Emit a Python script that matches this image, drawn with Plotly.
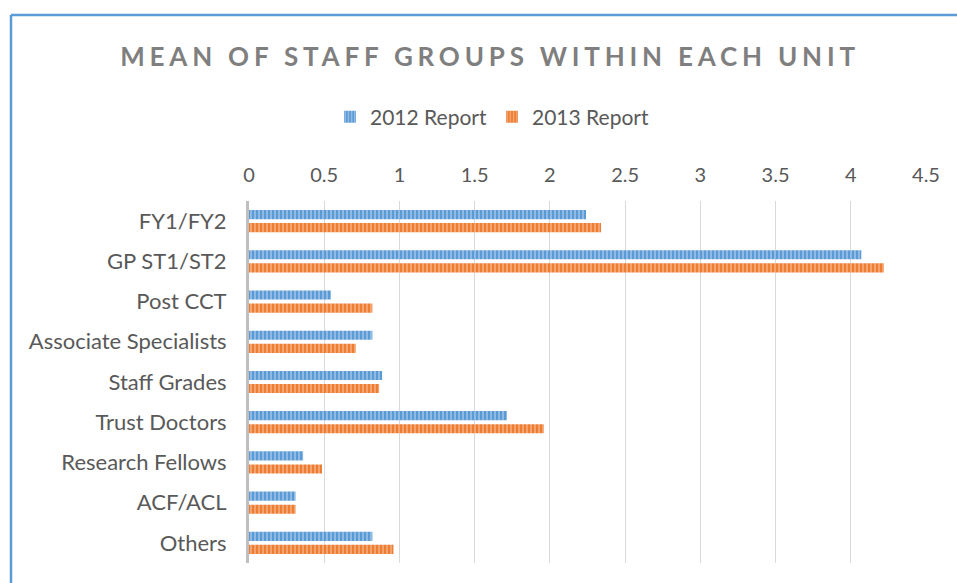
import plotly.graph_objects as go

categories = ["FY1/FY2", "GP ST1/ST2", "Post CCT", "Associate Specialists",
              "Staff Grades", "Trust Doctors", "Research Fellows", "ACF/ACL", "Others"]
report_2012 = [2.24, 4.07, 0.545, 0.82, 0.885, 1.715, 0.36, 0.31, 0.82]
report_2013 = [2.34, 4.22, 0.82, 0.71, 0.865, 1.96, 0.485, 0.31, 0.96]
series_names = ["2012 Report", "2013 Report"]
tick_vals = [0, 0.5, 1, 1.5, 2, 2.5, 3, 3.5, 4, 4.5]
tick_text = ["0", "0.5", "1", "1.5", "2", "2.5", "3", "3.5", "4", "4.5"]

W, H = 957, 583
L, R, T, B = 249, 31, 201, 20
pw, ph = W - L - R, H - T - B

def px_x(p):
    return (p - L) / pw

def px_y(p):
    return 1 + (T - p) / ph

fig = go.Figure()
styles = [("#5B9BD5", "#A7C8EA"), ("#ED7D31", "#F5B48A")]
for name, vals, (c, fg) in zip(series_names, [report_2012, report_2013], styles):
    fig.add_trace(go.Bar(
        y=categories, x=vals, name=name, orientation="h",
        marker=dict(color=c, line=dict(width=0),
                    pattern=dict(shape="|", size=4, solidity=0.35,
                                 fgcolor=fg, fillmode="overlay", fgopacity=1)),
    ))

title_txt = '<span style="letter-spacing:4.8px">MEAN OF STAFF GROUPS WITHIN EACH UNIT</span>'

fig.update_layout(
    width=W, height=H,
    margin=dict(l=L, r=R, t=T, b=B),
    paper_bgcolor="white", plot_bgcolor="white",
    barmode="group", bargap=0.35, bargroupgap=0.3,
    font=dict(family="Lato", color="#595959", size=21),
    title=dict(text=title_txt, x=px_x(490), xref="paper", xanchor="center",
               y=1 - 57 / H, yref="container", yanchor="middle",
               font=dict(family="Lato", size=26, color="#7F7F7F", weight="bold")),
    legend=dict(orientation="h", x=px_x(492), xanchor="center",
                y=px_y(117), yanchor="middle", font=dict(size=21, color="#595959"),
                itemwidth=30, traceorder="normal"),
    xaxis=dict(side="top", range=[0, 4.5], tickvals=tick_vals, ticktext=tick_text,
               showgrid=True, gridcolor="#D9D9D9", gridwidth=1, zeroline=False,
               showline=False, ticks="", ticklabelstandoff=14,
               tickfont=dict(size=20, color="#595959")),
    yaxis=dict(autorange="reversed", showline=True, linecolor="#BFBFBF", linewidth=3,
               showgrid=False, ticks="", ticklabelstandoff=15,
               tickfont=dict(size=22, color="#595959")),
    shapes=[
        dict(type="line", xref="paper", yref="paper", x0=px_x(11), x1=px_x(W + 5),
             y0=px_y(15), y1=px_y(15), line=dict(color="#5B9BD5", width=2.5)),
        dict(type="line", xref="paper", yref="paper", x0=px_x(11), x1=px_x(11),
             y0=px_y(15), y1=px_y(H + 5), line=dict(color="#5B9BD5", width=2.5)),
    ],
)

fig.write_html("out.html", config={"displayModeBar": False},
               post_script="document.body.style.margin='0';document.body.style.overflow='hidden';")
